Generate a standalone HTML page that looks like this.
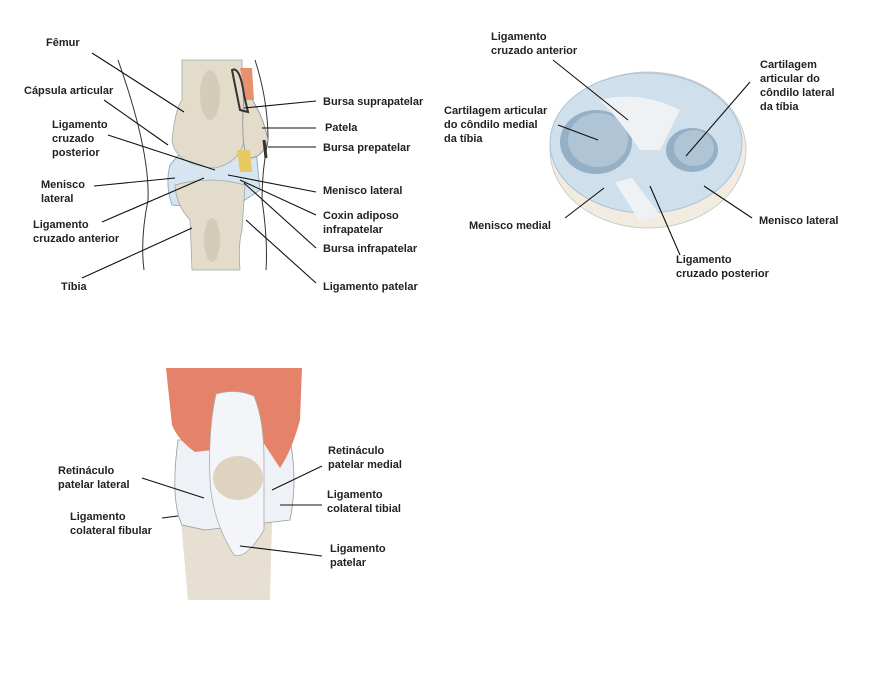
<!DOCTYPE html>
<html><head><meta charset="utf-8"><style>
body{margin:0;background:#fff}
svg text{font-family:"Liberation Sans",sans-serif;font-weight:bold;font-size:11px;fill:#222}
</style></head><body>
<svg width="872" height="675" viewBox="0 0 872 675" xmlns="http://www.w3.org/2000/svg">
<rect width="872" height="675" fill="#fff"/>
<!-- sagittal knee -->
<path d="M118,60 Q150,150 148,200 Q140,240 144,270" fill="none" stroke="#333" stroke-width="1"/>
<path d="M255,60 Q268,100 268,140 Q262,170 262,200 Q268,240 266,270" fill="none" stroke="#333" stroke-width="1"/>
<path d="M170,165 Q165,185 172,205 L230,210 L260,190 L255,140 L200,130 Z" fill="#d6e5ef" stroke="#8fb0c8"/>
<path d="M182,60 L242,60 L244,120 Q250,160 215,168 Q175,165 172,140 Q175,110 182,100 Z" fill="#e4dccb" stroke="#9aa" stroke-width="0.8"/>
<path d="M175,185 Q210,175 245,185 L242,230 Q238,245 240,270 L192,270 L190,220 Q176,205 175,185 Z" fill="#e4dccb" stroke="#9aa" stroke-width="0.8"/>
<ellipse cx="210" cy="95" rx="10" ry="25" fill="#c9bfae" opacity=".6"/>
<ellipse cx="212" cy="240" rx="8" ry="22" fill="#c9bfae" opacity=".6"/>
<path d="M245,90 Q262,110 268,140 Q262,160 246,158 Q240,130 245,90Z" fill="#e4dccb" stroke="#999"/>
<path d="M237,150 L250,150 L252,172 L240,172Z" fill="#e8c860"/>
<path d="M240,68 L252,68 L254,100 L246,100Z" fill="#e89070"/>
<path d="M232,70 Q240,66 244,95 L248,112 L240,110Z" fill="none" stroke="#333" stroke-width="2"/>
<path d="M264,140 L266,158" stroke="#333" stroke-width="3"/>
<g stroke="#111" stroke-width="1.1">
<line x1="92" y1="53" x2="184" y2="112"/>
<line x1="104" y1="100" x2="168" y2="145"/>
<line x1="108" y1="135" x2="215" y2="170"/>
<line x1="94" y1="186" x2="175" y2="178"/>
<line x1="102" y1="222" x2="204" y2="178"/>
<line x1="82" y1="278" x2="192" y2="228"/>
<line x1="316" y1="101" x2="244" y2="108"/>
<line x1="316" y1="128" x2="262" y2="128"/>
<line x1="316" y1="147" x2="268" y2="147"/>
<line x1="316" y1="192" x2="228" y2="175"/>
<line x1="316" y1="215" x2="240" y2="180"/>
<line x1="316" y1="248" x2="244" y2="183"/>
<line x1="316" y1="283" x2="246" y2="220"/>
</g>
<text x="46" y="46">Fêmur</text>
<text x="24" y="94">Cápsula articular</text>
<text x="52" y="128">Ligamento</text><text x="52" y="142">cruzado</text><text x="52" y="156">posterior</text>
<text x="41" y="188">Menisco</text><text x="41" y="202">lateral</text>
<text x="33" y="228">Ligamento</text><text x="33" y="242">cruzado anterior</text>
<text x="61" y="290">Tíbia</text>
<text x="323" y="105">Bursa suprapatelar</text>
<text x="325" y="131">Patela</text>
<text x="323" y="151">Bursa prepatelar</text>
<text x="323" y="194">Menisco lateral</text>
<text x="323" y="219">Coxin adiposo</text><text x="323" y="233">infrapatelar</text>
<text x="323" y="252">Bursa infrapatelar</text>
<text x="323" y="290">Ligamento patelar</text>
<!-- tibial plateau -->
<ellipse cx="648" cy="150" rx="98" ry="78" fill="#f2ece0" stroke="#ccc"/>
<ellipse cx="646" cy="143" rx="96" ry="70" fill="#cfdfec" stroke="#a9c2d6"/>
<ellipse cx="596" cy="142" rx="36" ry="32" fill="#95afc4"/>
<ellipse cx="598" cy="140" rx="30" ry="27" fill="#afc4d5"/>
<ellipse cx="692" cy="150" rx="26" ry="22" fill="#95afc4"/>
<ellipse cx="694" cy="148" rx="20" ry="18" fill="#afc4d5"/>
<path d="M600,100 Q640,90 680,110 L660,150 L640,150 Q620,120 600,100Z" fill="#eef2f5"/>
<path d="M615,182 L632,178 L660,215 L640,222Z" fill="#eef2f5"/>
<g stroke="#111" stroke-width="1.1">
<line x1="553" y1="60" x2="628" y2="120"/>
<line x1="750" y1="82" x2="686" y2="156"/>
<line x1="558" y1="125" x2="598" y2="140"/>
<line x1="565" y1="218" x2="604" y2="188"/>
<line x1="752" y1="218" x2="704" y2="186"/>
<line x1="680" y1="255" x2="650" y2="186"/>
</g>
<text x="491" y="40">Ligamento</text><text x="491" y="54">cruzado anterior</text>
<text x="760" y="68">Cartilagem</text><text x="760" y="82">articular do</text><text x="760" y="96">côndilo lateral</text><text x="760" y="110">da tíbia</text>
<text x="444" y="114">Cartilagem articular</text><text x="444" y="128">do côndilo medial</text><text x="444" y="142">da tíbia</text>
<text x="469" y="229">Menisco medial</text>
<text x="759" y="224">Menisco lateral</text>
<text x="676" y="263">Ligamento</text><text x="676" y="277">cruzado posterior</text>
<!-- anterior knee -->
<path d="M180,510 L232,510 L236,600 L188,600Z" fill="#e6dfd2"/>
<path d="M200,520 L272,520 L270,600 L208,600Z" fill="#e6dfd2"/>
<path d="M178,440 Q170,500 182,525 L205,530 L290,520 Q298,480 290,440Z" fill="#eef1f5" stroke="#999" stroke-width=".8"/>
<path d="M166,368 L302,368 L300,420 Q292,450 280,468 L255,430 L250,400 L222,398 L212,450 L195,452 Q178,440 172,425Z" fill="#e4836a"/>
<path d="M216,394 Q236,388 254,396 Q264,420 264,460 L264,530 Q246,560 234,555 Q212,520 210,480 Q208,430 216,394Z" fill="#f3f5f8" stroke="#aaa" stroke-width=".8"/>
<ellipse cx="238" cy="478" rx="25" ry="22" fill="#ddd3c0"/>
<g stroke="#111" stroke-width="1.1">
<line x1="142" y1="478" x2="204" y2="498"/>
<line x1="162" y1="518" x2="178" y2="516"/>
<line x1="322" y1="466" x2="272" y2="490"/>
<line x1="322" y1="505" x2="280" y2="505"/>
<line x1="322" y1="556" x2="240" y2="546"/>
</g>
<text x="58" y="474">Retináculo</text><text x="58" y="488">patelar lateral</text>
<text x="70" y="520">Ligamento</text><text x="70" y="534">colateral fibular</text>
<text x="328" y="454">Retináculo</text><text x="328" y="468">patelar medial</text>
<text x="327" y="498">Ligamento</text><text x="327" y="512">colateral tibial</text>
<text x="330" y="552">Ligamento</text><text x="330" y="566">patelar</text>
</svg>
</body></html>
